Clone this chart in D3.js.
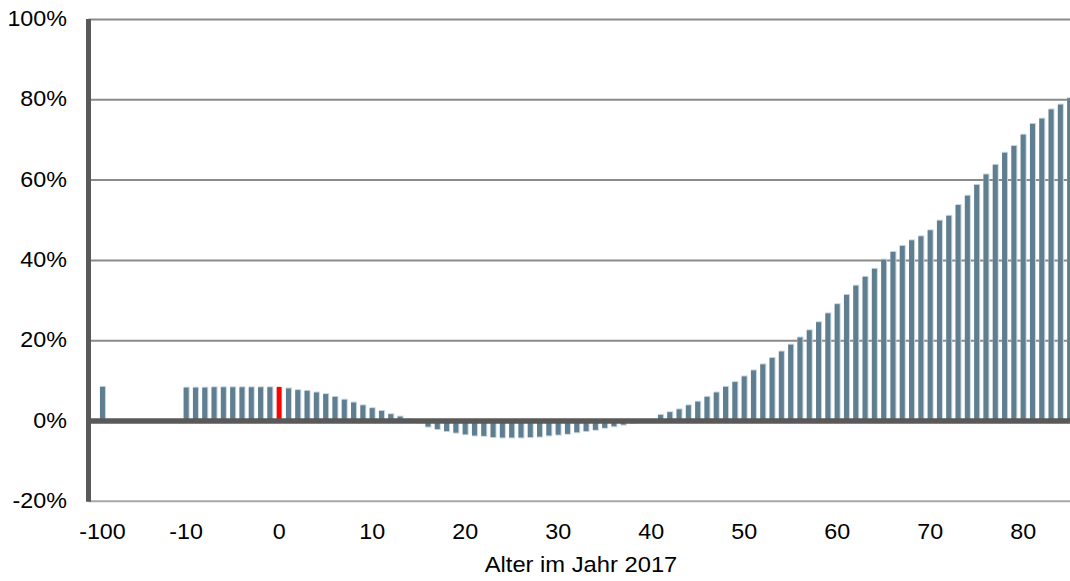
<!DOCTYPE html>
<html>
<head>
<meta charset="utf-8">
<script src="https://cdn.jsdelivr.net/npm/d3@7/dist/d3.min.js"></script>
<style>
  html, body { margin: 0; padding: 0; background: #fff; }
  svg { display: block; }
  text { font-family: "Liberation Sans", Arial, sans-serif; fill: #000; }
</style>
</head>
<body>
<svg id="chart" width="1070" height="581"></svg>
<script>
// Category slots along the x axis: -100, eight empty slots, then ages -10 … 85
const categories = ["-100", "", "", "", "", "", "", "", "",
  "-10", "-9", "-8", "-7", "-6", "-5", "-4", "-3", "-2", "-1",
  "0", "1", "2", "3", "4", "5", "6", "7", "8", "9",
  "10", "11", "12", "13", "14", "15", "16", "17", "18", "19",
  "20", "21", "22", "23", "24", "25", "26", "27", "28", "29",
  "30", "31", "32", "33", "34", "35", "36", "37", "38", "39",
  "40", "41", "42", "43", "44", "45", "46", "47", "48", "49",
  "50", "51", "52", "53", "54", "55", "56", "57", "58", "59",
  "60", "61", "62", "63", "64", "65", "66", "67", "68", "69",
  "70", "71", "72", "73", "74", "75", "76", "77", "78", "79",
  "80", "81", "82", "83", "84", "85"];

// Change in percent per category slot (null = empty slot)
const values = [8.5, null, null, null, null, null, null, null, null,
  8.3, 8.3, 8.3, 8.4, 8.4, 8.4, 8.4, 8.4, 8.4, 8.4,
  8.5, 8.1, 7.7, 7.5, 7.1, 6.7, 6.0, 5.3, 4.6, 3.9,
  3.2, 2.5, 1.7, 1.1, 0.4, -0.4, -1.4, -2.0, -2.5, -2.9,
  -3.3, -3.6, -3.7, -4.0, -4.1, -4.1, -4.1, -4.0, -3.9, -3.6,
  -3.4, -3.2, -2.8, -2.5, -2.2, -1.7, -1.3, -0.9, -0.5, -0.2,
  0.3, 1.5, 2.2, 2.9, 3.9, 4.8, 6.0, 7.1, 8.5, 9.7,
  11.1, 12.6, 14.1, 15.7, 17.3, 19.0, 20.8, 22.6, 24.6, 26.8,
  29.1, 31.4, 33.7, 35.9, 37.9, 40.2, 42.1, 43.6, 45.0, 46.0,
  47.5, 49.9, 51.1, 53.8, 56.1, 58.8, 61.4, 63.8, 66.8, 68.5,
  71.3, 74.0, 75.3, 77.6, 78.8, 80.4];

const highlightCategory = "0";
const xTickLabels = ["-100", "-10", "0", "10", "20", "30", "40", "50", "60", "70", "80"];
const yTicks = [-20, 0, 20, 40, 60, 80, 100];
const xTitle = "Alter im Jahr 2017";

const svg = d3.select("#chart");
const plotLeft = 88.5, plotTop = 19.5, plotBottom = 501.3;
const step = 9.3;

// one leading empty slot before the first category, plus one trailing slot
const slots = d3.range(-1, categories.length + 1);
const x = d3.scaleBand()
  .domain(slots)
  .range([plotLeft, plotLeft + slots.length * step])
  .paddingInner(0.46)
  .paddingOuter(0.23);
const y = d3.scaleLinear().domain([-20, 100]).range([plotBottom, plotTop]);

const plotRight = plotLeft + slots.length * step;
const textStretch = 1.06;

// horizontal gridlines
svg.append("g")
  .selectAll("line")
  .data(yTicks.filter(t => t > 0))
  .join("line")
  .attr("x1", plotLeft).attr("x2", plotRight)
  .attr("y1", d => y(d)).attr("y2", d => y(d))
  .attr("stroke", "#8a8a8a").attr("stroke-width", 2);

// bottom border of the plot
svg.append("line")
  .attr("x1", plotLeft).attr("x2", plotRight)
  .attr("y1", y(-20)).attr("y2", y(-20))
  .attr("stroke", "#a8a8a8").attr("stroke-width", 2);

const bars = categories
  .map((c, i) => ({ c, i, v: values[i] }))
  .filter(d => d.v !== null && d.c !== "");

const bw = x.bandwidth();

// pale edge on the outer side of each bar
svg.append("g")
  .selectAll("rect")
  .data(bars.filter(d => d.c !== highlightCategory))
  .join("rect")
  .attr("x", d => x(d.i))
  .attr("width", bw + 1)
  .attr("y", d => d.v >= 0 ? y(d.v) - 1 : y(0))
  .attr("height", d => Math.abs(y(d.v) - y(0)) + 1)
  .attr("fill", "#c9d6df");

// bars
svg.append("g")
  .selectAll("rect")
  .data(bars)
  .join("rect")
  .attr("x", d => x(d.i))
  .attr("width", bw)
  .attr("y", d => Math.min(y(d.v), y(0)))
  .attr("height", d => Math.abs(y(d.v) - y(0)))
  .attr("fill", d => d.c === highlightCategory ? "#ff0000" : "#5f7f91");

// zero line
svg.append("line")
  .attr("x1", plotLeft).attr("x2", plotRight)
  .attr("y1", y(0)).attr("y2", y(0))
  .attr("stroke", "#595959").attr("stroke-width", 5.5);

// vertical axis line
svg.append("line")
  .attr("x1", plotLeft).attr("x2", plotLeft)
  .attr("y1", y(100) - 0.5).attr("y2", y(-20) + 0.5)
  .attr("stroke", "#595959").attr("stroke-width", 5);

// y tick labels
svg.append("g")
  .selectAll("text")
  .data(yTicks)
  .join("text")
  .attr("transform", d => `translate(67,${y(d) + 6.5}) scale(${textStretch},1)`)
  .attr("text-anchor", "end")
  .attr("font-size", 22)
  .text(d => d + "%");

// x tick labels
svg.append("g")
  .selectAll("text")
  .data(xTickLabels)
  .join("text")
  .attr("transform", d => {
    const i = categories.indexOf(d);
    return `translate(${x(i) + bw / 2},538.5) scale(${textStretch},1)`;
  })
  .attr("text-anchor", "middle")
  .attr("font-size", 22)
  .text(d => d);

// x axis title
svg.append("text")
  .attr("transform", `translate(581,571.5) scale(1.08,1)`)
  .attr("text-anchor", "middle")
  .attr("font-size", 22)
  .text(xTitle);
</script>
</body>
</html>
